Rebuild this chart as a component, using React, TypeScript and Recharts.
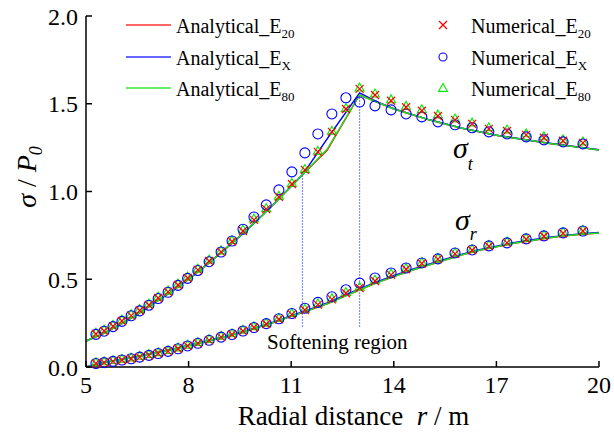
import React from 'react';
import { ComposedChart, Line, Scatter, XAxis, YAxis, ReferenceLine } from 'recharts';

// numerical mesh (radial distance, m)
const meshR = [
  5.29, 5.53, 5.79, 6.05, 6.32, 6.57, 6.84, 7.11, 7.4, 7.69, 7.97, 8.27, 8.6, 8.95, 9.27, 9.59, 9.91,
  10.27, 10.64, 11.02, 11.4, 11.78, 12.19, 12.6, 13.0, 13.45, 13.92, 14.36, 14.82, 15.29, 15.79, 16.29,
  16.78, 17.31, 17.87, 18.39, 18.95, 19.53,
];

// sigma_t / P0
const numT_E20 = [
  0.188, 0.205, 0.232, 0.262, 0.293, 0.322, 0.353, 0.393, 0.428, 0.467, 0.507, 0.553, 0.604, 0.656, 0.715,
  0.775, 0.838, 0.9, 0.969, 1.043, 1.123, 1.226, 1.34, 1.47, 1.585, 1.55, 1.517, 1.48, 1.46, 1.43, 1.408,
  1.385, 1.357, 1.345, 1.323, 1.306, 1.289, 1.277,
];
const numT_EX = [
  0.186, 0.204, 0.23, 0.26, 0.292, 0.32, 0.352, 0.39, 0.426, 0.465, 0.505, 0.55, 0.6, 0.655, 0.718,
  0.785, 0.855, 0.924, 1.009, 1.112, 1.22, 1.328, 1.442, 1.534, 1.51, 1.488, 1.465, 1.442, 1.425, 1.397,
  1.38, 1.363, 1.34, 1.328, 1.311, 1.294, 1.283, 1.271,
];
const numT_E80 = [
  0.196, 0.213, 0.24, 0.27, 0.301, 0.33, 0.361, 0.401, 0.436, 0.475, 0.515, 0.561, 0.612, 0.664, 0.723,
  0.783, 0.846, 0.906, 0.975, 1.048, 1.128, 1.232, 1.346, 1.476, 1.592, 1.558, 1.525, 1.488, 1.468, 1.438,
  1.416, 1.393, 1.366, 1.353, 1.331, 1.314, 1.297, 1.285,
];

// sigma_r / P0
const numR_E20 = [
  0.02, 0.025, 0.032, 0.04, 0.047, 0.056, 0.066, 0.077, 0.089, 0.104, 0.12, 0.135, 0.152, 0.17, 0.185,
  0.205, 0.225, 0.245, 0.272, 0.3, 0.325, 0.355, 0.385, 0.42, 0.45, 0.49, 0.525, 0.557, 0.59, 0.615,
  0.645, 0.665, 0.688, 0.707, 0.728, 0.745, 0.762, 0.775,
];
const numR_EX = [
  0.02, 0.025, 0.032, 0.04, 0.047, 0.056, 0.066, 0.077, 0.089, 0.104, 0.12, 0.135, 0.152, 0.17, 0.185,
  0.205, 0.225, 0.247, 0.275, 0.305, 0.335, 0.368, 0.4, 0.44, 0.478, 0.507, 0.536, 0.564, 0.593, 0.616,
  0.65, 0.667, 0.69, 0.707, 0.73, 0.747, 0.764, 0.775,
];
const numR_E80 = [
  0.027, 0.032, 0.039, 0.047, 0.054, 0.063, 0.073, 0.084, 0.096, 0.111, 0.127, 0.142, 0.159, 0.177, 0.192,
  0.212, 0.232, 0.252, 0.279, 0.307, 0.332, 0.362, 0.392, 0.427, 0.457, 0.497, 0.532, 0.564, 0.597, 0.622,
  0.652, 0.672, 0.695, 0.714, 0.735, 0.752, 0.769, 0.782,
];

// analytical solutions
const anaR = [5, 5.5, 6, 6.5, 7, 7.5, 8, 8.5, 9, 9.5, 10, 10.5, 11, 11.33, 12.05, 13.0, 13.5, 14, 14.5, 15, 15.5, 16, 16.5, 17, 17.5, 18, 18.5, 19, 19.5, 20];
const anaT_E20 = [0.148, 0.19, 0.242, 0.3, 0.365, 0.43, 0.5, 0.578, 0.66, 0.745, 0.835, 0.93, 1.03, 1.095, 1.235, 1.55, 1.51, 1.47, 1.44, 1.41, 1.385, 1.36, 1.34, 1.32, 1.305, 1.29, 1.275, 1.262, 1.25, 1.237];
const anaT_EX = [0.148, 0.19, 0.242, 0.3, 0.365, 0.43, 0.5, 0.578, 0.66, 0.745, 0.835, 0.93, 1.03, 1.095, 1.3, 1.562, 1.512, 1.472, 1.441, 1.411, 1.386, 1.361, 1.341, 1.321, 1.306, 1.291, 1.276, 1.263, 1.251, 1.238];
const anaT_E80 = [0.148, 0.19, 0.242, 0.3, 0.365, 0.43, 0.5, 0.578, 0.66, 0.745, 0.835, 0.93, 1.03, 1.095, 1.24, 1.55, 1.51, 1.47, 1.44, 1.41, 1.385, 1.36, 1.34, 1.32, 1.305, 1.29, 1.275, 1.262, 1.25, 1.237];
const anaS_E20 = [0.0, 0.025, 0.042, 0.06, 0.08, 0.1, 0.122, 0.145, 0.17, 0.195, 0.225, 0.255, 0.29, 0.31, 0.36, 0.44, 0.48, 0.515, 0.55, 0.58, 0.61, 0.64, 0.665, 0.685, 0.705, 0.72, 0.735, 0.748, 0.757, 0.764];
const anaS_EX = [0.0, 0.025, 0.042, 0.06, 0.08, 0.1, 0.122, 0.145, 0.17, 0.195, 0.225, 0.256, 0.292, 0.313, 0.365, 0.445, 0.485, 0.52, 0.554, 0.584, 0.614, 0.643, 0.668, 0.688, 0.708, 0.723, 0.738, 0.75, 0.759, 0.766];
const anaS_E80 = [0.0, 0.025, 0.042, 0.06, 0.08, 0.1, 0.122, 0.145, 0.17, 0.195, 0.225, 0.255, 0.29, 0.31, 0.36, 0.44, 0.48, 0.515, 0.55, 0.58, 0.61, 0.64, 0.665, 0.685, 0.705, 0.72, 0.735, 0.748, 0.757, 0.764];

// softening zone bounds
const softStart = 11.33;
const softEnd = 13.0;
const softBase = 0.23;
const softTopStart = 1.095;
const softTopEnd = 1.55;

const xTicks = [5, 8, 11, 14, 17, 20];
const yTicks = [0, 0.5, 1.0, 1.5, 2.0];

const zip = (xs: number[], ys: number[]) => xs.map((x, i) => ({ x, y: ys[i] }));

const RED = '#ff0000';
const BLUE = '#0000ff';
const GREEN = '#22dd22';
const FONT = 'Liberation Serif, Times New Roman, DejaVu Serif, serif';

const CrossShape = (p: any) => {
  const { cx, cy } = p;
  const s = 4;
  return (
    <g>
      <line x1={cx - s} y1={cy - s} x2={cx + s} y2={cy + s} stroke={RED} strokeWidth={1.2} />
      <line x1={cx - s} y1={cy + s} x2={cx + s} y2={cy - s} stroke={RED} strokeWidth={1.2} />
    </g>
  );
};
const CircleShape = (p: any) => (
  <circle cx={p.cx} cy={p.cy} r={5} fill="none" stroke={BLUE} strokeWidth={1.1} />
);
const TriangleShape = (p: any) => {
  const { cx, cy } = p;
  const s = 4.5;
  return (
    <polygon
      points={`${cx},${cy - s} ${cx - s},${cy + s * 0.75} ${cx + s},${cy + s * 0.75}`}
      fill="none"
      stroke="#00ee00"
      strokeWidth={1.1}
    />
  );
};

const XTitle = (props: any) => {
  const vb = props.viewBox;
  const cx = vb.x + vb.width / 2 + 11;
  return (
    <text x={cx} y={425} textAnchor="middle" style={{ fontFamily: FONT }} fontSize={27} fill="#000">
      Radial distance{'\u00a0\u00a0'}
      <tspan fontStyle="italic">r</tspan> / m
    </text>
  );
};

const YTitle = () => (
  <text
    x={30}
    y={177}
    transform="rotate(-90 30 177)"
    textAnchor="middle"
    style={{ fontFamily: FONT }}
    fontSize={28}
    fill="#000"
    dominantBaseline="middle"
  >
    <tspan fontStyle="italic">σ</tspan> / <tspan fontStyle="italic">P</tspan>
    <tspan fontStyle="italic" fontSize={18} dy={8}>0</tspan>
  </text>
);

function Legend() {
  const rowsL = [
    { color: '#ff6666', sub: '20' },
    { color: '#6666ff', sub: 'X' },
    { color: '#66ee66', sub: '80' },
  ];
  const rowY = [25, 57, 88];
  return (
    <svg
      width={614}
      height={438}
      style={{ position: 'absolute', left: 0, top: 0, pointerEvents: 'none', fontFamily: FONT }}
    >
      {rowsL.map((r, i) => (
        <g key={'a' + i}>
          <line x1={126} y1={rowY[i]} x2={171} y2={rowY[i]} stroke={r.color} strokeWidth={2} />
          <text x={176} y={rowY[i] + 8} fontSize={20} fill="#000">
            Analytical_E<tspan fontSize={13} dy={5}>{r.sub}</tspan>
          </text>
        </g>
      ))}
      <g>
        <CrossShape cx={443} cy={rowY[0]} />
        <text x={471} y={rowY[0] + 8} fontSize={20} fill="#000">
          Numerical_E<tspan fontSize={13} dy={5}>20</tspan>
        </text>
        <circle cx={443} cy={rowY[1]} r={4} fill="none" stroke={BLUE} strokeWidth={1.1} />
        <text x={471} y={rowY[1] + 8} fontSize={20} fill="#000">
          Numerical_E<tspan fontSize={13} dy={5}>X</tspan>
        </text>
        <TriangleShape cx={443} cy={rowY[2]} />
        <text x={471} y={rowY[2] + 8} fontSize={20} fill="#000">
          Numerical_E<tspan fontSize={13} dy={5}>80</tspan>
        </text>
      </g>
      <text x={453} y={158} fontSize={30} fontStyle="italic" fill="#000">
        σ<tspan fontSize={18} dy={12}>t</tspan>
      </text>
      <text x={455} y={230} fontSize={30} fontStyle="italic" fill="#000">
        σ<tspan fontSize={18} dy={10}>r</tspan>
      </text>
      <text x={267} y={349} fontSize={21} fill="#000">
        Softening region
      </text>
      <YTitle />
    </svg>
  );
}

export default function App() {
  const tickStyle = { fill: '#000', fontSize: 24, fontFamily: FONT };
  return (
    <div
      style={{
        position: 'absolute',
        left: 0,
        top: 0,
        width: 614,
        height: 438,
        background: '#fff',
        fontFamily: FONT,
      }}
    >
      <ComposedChart width={614} height={438} margin={{ top: 16, right: 15, left: 0, bottom: 0 }}>
        <XAxis
          dataKey="x"
          type="number"
          domain={[5, 20]}
          ticks={xTicks}
          interval={0}
          height={71}
          tick={tickStyle}
          tickSize={-6}
          tickMargin={15}
          tickLine={{ stroke: '#000', strokeWidth: 1.5 }}
          axisLine={{ stroke: '#000', strokeWidth: 1.5 }}
          label={<XTitle />}
        />
        <YAxis
          dataKey="y"
          type="number"
          domain={[0, 2]}
          ticks={yTicks}
          interval={0}
          width={86}
          tick={tickStyle}
          tickFormatter={(v: number) => v.toFixed(1)}
          tickSize={-6}
          tickMargin={14}
          tickLine={{ stroke: '#000', strokeWidth: 1.5 }}
          axisLine={{ stroke: '#000', strokeWidth: 1.5 }}
        />
        <ReferenceLine
          segment={[{ x: softStart, y: softBase }, { x: softStart, y: softTopStart }]}
          stroke="#6666ff"
          strokeWidth={1.2}
          strokeDasharray="1.5 1.5"
        />
        <ReferenceLine
          segment={[{ x: softEnd, y: softBase }, { x: softEnd, y: softTopEnd }]}
          stroke="#6666ff"
          strokeWidth={1.2}
          strokeDasharray="1.5 1.5"
        />
        <Line data={zip(anaR, anaT_E20)} dataKey="y" stroke={RED} strokeWidth={1.5} dot={false} isAnimationActive={false} />
        <Line data={zip(anaR, anaS_E20)} dataKey="y" stroke={RED} strokeWidth={1.5} dot={false} isAnimationActive={false} />
        <Line data={zip(anaR, anaT_EX)} dataKey="y" stroke={BLUE} strokeWidth={1.5} dot={false} isAnimationActive={false} />
        <Line data={zip(anaR, anaS_EX)} dataKey="y" stroke={BLUE} strokeWidth={1.5} dot={false} isAnimationActive={false} />
        <Line data={zip(anaR, anaT_E80)} dataKey="y" stroke={GREEN} strokeWidth={1.5} dot={false} isAnimationActive={false} />
        <Line data={zip(anaR, anaS_E80)} dataKey="y" stroke={GREEN} strokeWidth={1.5} dot={false} isAnimationActive={false} />
        <Scatter data={zip(meshR, numT_E80)} shape={TriangleShape} isAnimationActive={false} />
        <Scatter data={zip(meshR, numR_E80)} shape={TriangleShape} isAnimationActive={false} />
        <Scatter data={zip(meshR, numT_EX)} shape={CircleShape} isAnimationActive={false} />
        <Scatter data={zip(meshR, numR_EX)} shape={CircleShape} isAnimationActive={false} />
        <Scatter data={zip(meshR, numT_E20)} shape={CrossShape} isAnimationActive={false} />
        <Scatter data={zip(meshR, numR_E20)} shape={CrossShape} isAnimationActive={false} />
      </ComposedChart>
      <Legend />
    </div>
  );
}
